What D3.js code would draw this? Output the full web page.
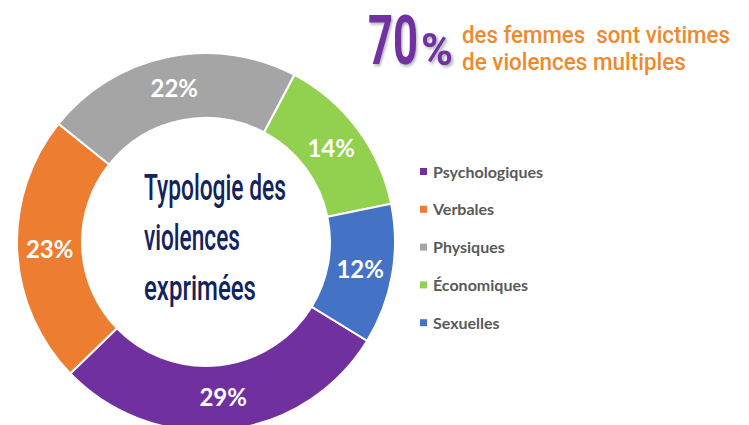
<!DOCTYPE html>
<html>
<head>
<meta charset="utf-8">
<script src="https://cdn.jsdelivr.net/npm/d3@7/dist/d3.min.js"></script>
<style>
  html, body { margin: 0; padding: 0; background: #fff; }
  svg { display: block; }
</style>
</head>
<body>
<div id="chart"></div>
<script>
// Data
const categories = ["Psychologiques", "Verbales", "Physiques", "Économiques", "Sexuelles"];
const values = [29, 23, 22, 14, 12];
const colors = ["#7030a0", "#ed7d31", "#a5a5a5", "#92d050", "#4472c4"];
const centerLines = ["Typologie des", "violences", "exprimées"];
const headlineNumber = "70";
const headlineLines = ["des femmes  sont victimes", "de violences multiples"];

const width = 749;
const height = 425;

const svg = d3.select("#chart")
    .append("svg")
    .attr("width", width)
    .attr("height", height)
    .attr("viewBox", [0, 0, width, height]);

const defs = svg.append("defs");
defs.append("filter")
    .attr("id", "shadow")
    .attr("x", "-20%").attr("y", "-20%")
    .attr("width", "150%").attr("height", "150%")
    .append("feDropShadow")
    .attr("dx", 2).attr("dy", 2)
    .attr("stdDeviation", 1.5)
    .attr("flood-color", "#000")
    .attr("flood-opacity", 0.3);

// squeeze a text horizontally to a target width (condensed look)
function condense(sel, x, y, targetWidth) {
    sel.each(function (d, i) {
        const node = this;
        const w = node.getComputedTextLength();
        const tx = typeof x === "function" ? x(d, i) : x;
        const ty = typeof y === "function" ? y(d, i) : y;
        const tw = typeof targetWidth === "function" ? targetWidth(d, i) : targetWidth;
        d3.select(node).attr("transform", `translate(${tx},${ty}) scale(${tw / w},1)`);
    });
}

// Donut
const cx = 206, cy = 242;
const outerR = 189, innerR = 124;
const startAngle = 121.5 * Math.PI / 180;

const pie = d3.pie()
    .sort(null)
    .value(d => d)
    .startAngle(startAngle)
    .endAngle(startAngle + 2 * Math.PI);

const arc = d3.arc().innerRadius(innerR).outerRadius(outerR);
const labelArc = d3.arc().innerRadius((innerR + outerR) / 2).outerRadius((innerR + outerR) / 2);

const color = d3.scaleOrdinal().domain(categories).range(colors);

const donut = svg.append("g").attr("transform", `translate(${cx},${cy})`);
const arcs = pie(values);

donut.selectAll("path")
    .data(arcs)
    .join("path")
    .attr("d", arc)
    .attr("fill", (d, i) => color(categories[i]))
    .attr("stroke", "#fff")
    .attr("stroke-width", 2);

donut.selectAll("text.pct")
    .data(arcs)
    .join("text")
    .attr("class", "pct")
    .attr("transform", d => `translate(${labelArc.centroid(d)})`)
    .attr("text-anchor", "middle")
    .attr("dy", "0.36em")
    .attr("fill", "#fff")
    .attr("font-family", "Lato, sans-serif")
    .attr("font-weight", "bold")
    .attr("font-size", 24)
    .text(d => d.value + "%");

// Centre title
const centerWidths = [142, 96, 112];
svg.append("g")
    .selectAll("text")
    .data(centerLines)
    .join("text")
    .attr("fill", "#13235e")
    .attr("font-family", "Roboto, sans-serif")
    .attr("font-weight", 500)
    .attr("font-size", 36)
    .text(d => d)
    .call(condense, 144, (d, i) => 200 + i * 50, (d, i) => centerWidths[i]);

// Headline top right
const head = svg.append("g");
head.append("text")
    .attr("fill", "#7030a0")
    .attr("filter", "url(#shadow)")
    .attr("font-family", "Roboto, sans-serif")
    .attr("font-weight", "bold")
    .attr("font-size", 68)
    .text(headlineNumber)
    .call(condense, 368, 64, 50);
head.append("text")
    .attr("fill", "#7030a0")
    .attr("filter", "url(#shadow)")
    .attr("font-family", "Roboto, sans-serif")
    .attr("font-weight", "bold")
    .attr("font-size", 44)
    .text("%")
    .call(condense, 421, 65, 32);

const headWidths = [268, 224];
head.selectAll("text.sub")
    .data(headlineLines)
    .join("text")
    .attr("class", "sub")
    .attr("fill", "#ef8a2b")
    .attr("font-family", "Roboto, sans-serif")
    .attr("font-weight", 500)
    .attr("font-size", 24)
    .style("white-space", "pre")
    .text(d => d)
    .call(condense, 462, (d, i) => 43 + i * 27, (d, i) => headWidths[i]);

// Legend
const legend = svg.append("g").attr("transform", "translate(420,172)");
const rows = legend.selectAll("g")
    .data(categories)
    .join("g")
    .attr("transform", (d, i) => `translate(0,${i * 37.8})`);

rows.append("rect")
    .attr("x", 0)
    .attr("y", -4)
    .attr("width", 7)
    .attr("height", 7)
    .attr("fill", d => color(d));

rows.append("text")
    .attr("x", 13)
    .attr("dy", "0.35em")
    .attr("fill", "#595959")
    .attr("font-family", "Lato, sans-serif")
    .attr("font-weight", "bold")
    .attr("font-size", 16)
    .text(d => d);
</script>
</body>
</html>
